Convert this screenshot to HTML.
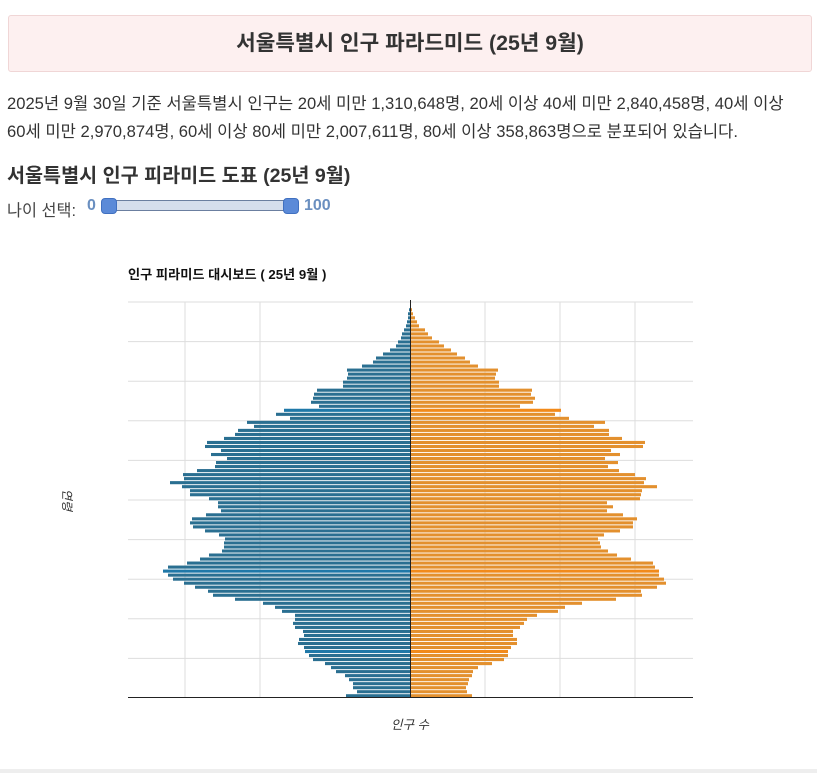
<!DOCTYPE html>
<html><head><meta charset="utf-8"><style>
body{margin:0;width:817px;height:774px;background:#fff;font-family:"Liberation Sans","Noto Sans CJK KR",sans-serif;color:#222;position:relative;overflow:hidden}
.hdr{position:absolute;left:8px;top:15px;width:804px;height:57px;background:#fdf0f0;border:1px solid #f0d6d6;border-radius:3px;box-sizing:border-box;text-align:center;line-height:55px;font-size:21.3px;font-weight:bold;color:#333}
.p{position:absolute;left:7px;top:90px;font-size:16.6px;line-height:28px;color:#333;width:815px;white-space:nowrap}
.h2{position:absolute;left:7px;top:159px;font-size:19.6px;font-weight:bold;color:#333}
.sl{position:absolute;left:7px;top:197px;font-size:16.3px;color:#444}
</style></head><body>
<div class="hdr">서울특별시 인구 파라드미드 (25년 9월)</div>
<div class="p">2025년 9월 30일 기준 서울특별시 인구는 20세 미만 1,310,648명, 20세 이상 40세 미만 2,840,458명, 40세 이상<br>60세 미만 2,970,874명, 60세 이상 80세 미만 2,007,611명, 80세 이상 358,863명으로 분포되어 있습니다.</div>
<div class="h2">서울특별시 인구 피라미드 도표 (25년 9월)</div>
<div class="sl">나이 선택:</div>
<div style="position:absolute;left:87px;top:197px;font-size:16px;color:#6a8fc0;font-weight:bold">0</div>
<div style="position:absolute;left:107px;top:200px;width:185px;height:11px;background:#d5deec;border:1px solid #6b7fa0;box-sizing:border-box"></div>
<div style="position:absolute;left:101px;top:198px;width:16px;height:16px;background:#5b8ad8;border:1px solid #4070c0;border-radius:4px;box-sizing:border-box"></div>
<div style="position:absolute;left:283px;top:198px;width:16px;height:16px;background:#5b8ad8;border:1px solid #4070c0;border-radius:4px;box-sizing:border-box"></div>
<div style="position:absolute;left:304px;top:197px;font-size:16px;color:#6a8fc0;font-weight:bold">100</div>
<svg id="s" width="817" height="774" style="position:absolute;left:0;top:0">
<text x="128" y="279" font-size="13.2" font-weight="bold" fill="#111" font-family="Liberation Sans,Noto Sans CJK KR,sans-serif">인구 피라미드 대시보드 ( 25년 9월 )</text>
<text x="0" y="0" font-size="12" font-style="italic" fill="#333" transform="translate(63,500) rotate(90)" text-anchor="middle" font-family="Liberation Sans,Noto Sans CJK KR,sans-serif">연령</text>
<text x="410" y="729" font-size="12.5" font-style="italic" fill="#333" text-anchor="middle" font-family="Liberation Sans,Noto Sans CJK KR,sans-serif">인구 수</text>
<g id="g"></g>
<line x1="0" y1="771" x2="817" y2="771" stroke="#eee" stroke-width="4"/>
</svg>
<script>
var L=[410,410,409,408,408,407,406,404,402,401,398,396,390,383,376,373,362,347,348,347,343,343,317,314,313,311,319,284,276,290,247,254,238,235,224,207,205,221,211,227,216,215,197,183,184,170,182,190,190,209,
218,218,221,206,192,190,193,205,219,225,224,224,222,209,200,187,168,163,168,173,184,195,208,213,235,263,275,282,295,295,293,295,303,304,299,298,304,305,309,313,325,331,336,345,349,353,353,357,346];
var R=[411,411,412,413,415,417,419,425,428,432,439,444,451,457,465,470,478,498,496,495,499,499,532,531,535,533,520,561,555,569,605,594,609,609,622,645,643,611,620,605,618,608,619,635,646,644,657,642,641,640,
607,613,607,623,637,633,633,620,604,598,600,601,608,617,631,653,655,659,659,664,666,657,641,642,616,582,565,558,537,527,524,520,513,513,517,517,511,508,508,504,492,478,473,472,469,468,466,467,472];
var g=document.getElementById('g'),h='';
for(var y=302;y<=698;y+=39.6){h+='<line x1="128" x2="693" y1="'+y+'" y2="'+y+'" stroke="#ddd"/>';}
[185,260,485,560,635].forEach(function(x){h+='<line x1="'+x+'" x2="'+x+'" y1="302" y2="697" stroke="#ddd"/>';});
var n=L.length,p=394/(n-1);
for(var i=0;i<n;i++){var y=301.7+i*p-1.5;var hi=(i==27||i==67||i==87);
h+='<rect x="'+L[i]+'" y="'+y+'" width="'+(410-L[i])+'" height="3.1" fill="'+(hi?'#1f78a8':'#2a6f91')+'"/>';
h+='<rect x="410" y="'+y+'" width="'+(R[i]-410)+'" height="3.1" fill="'+(hi?'#f28a1a':'#e3902e')+'"/>';}
h+='<line x1="410.5" x2="410.5" y1="300" y2="697" stroke="#222"/>';
h+='<line x1="128" x2="693" y1="697.5" y2="697.5" stroke="#222"/>';
g.innerHTML=h;
</script>
</body></html>
